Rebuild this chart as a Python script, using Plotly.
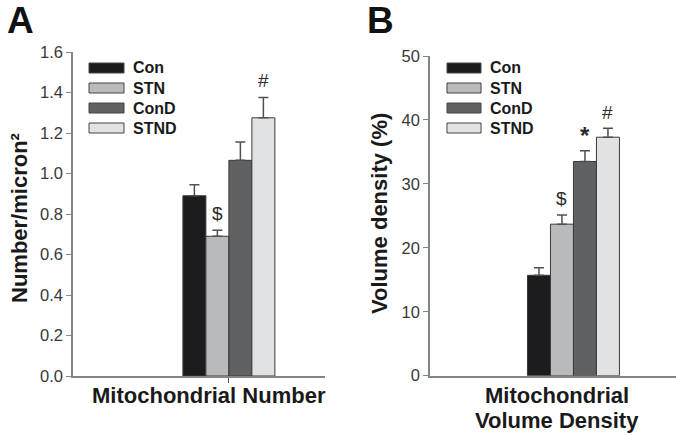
import plotly.graph_objects as go

# ---- data ----
groups = ["Con", "STN", "ConD", "STND"]
number_vals = [0.89, 0.69, 1.065, 1.275]
number_err = [0.055, 0.03, 0.09, 0.10]
number_marks = ["", "$", "", "#"]
density_vals = [15.7, 23.7, 33.5, 37.3]
density_err = [1.2, 1.45, 1.7, 1.4]
density_marks = ["", "$", "*", "#"]
number_ticks = [0.0, 0.2, 0.4, 0.6, 0.8, 1.0, 1.2, 1.4, 1.6]
density_ticks = [0, 10, 20, 30, 40, 50]

colors = ["#1c1c1e", "#b9babc", "#606163", "#e1e2e4"]

W, H = 676, 435
FONT = "Arial, Liberation Sans, Helvetica, sans-serif"


def px(xp):
    return xp / W


def py(yp):
    return 1 - yp / H


fig = go.Figure()
pos = list(range(len(groups)))

fig.add_trace(go.Bar(
    x=pos, y=number_vals, width=1, marker=dict(color=colors, line=dict(color="#3a3a3a", width=1)),
    error_y=dict(type="data", array=number_err, arrayminus=[0] * 4, symmetric=False,
                 color="#505050", thickness=1.5, width=5),
    xaxis="x", yaxis="y", showlegend=False))
fig.add_trace(go.Bar(
    x=pos, y=density_vals, width=1, marker=dict(color=colors, line=dict(color="#3a3a3a", width=1)),
    error_y=dict(type="data", array=density_err, arrayminus=[0] * 4, symmetric=False,
                 color="#505050", thickness=1.5, width=5),
    xaxis="x2", yaxis="y2", showlegend=False))

axis_col = "#858585"
tickfont = dict(family=FONT, size=16.5, color="#383838")

fig.update_layout(
    width=W, height=H, margin=dict(l=0, r=0, t=0, b=0, autoexpand=False),
    paper_bgcolor="white", plot_bgcolor="white",
    barmode="overlay",
    xaxis=dict(domain=[px(73), px(325)], range=[-5.28, 5.68], showgrid=False, zeroline=False,
               showline=True, linecolor=axis_col, linewidth=1.5, automargin=False,
               tickmode="array", tickvals=[1.5], ticktext=[""], ticks="outside",
               ticklen=5, tickcolor="#555555", tickwidth=1.2, anchor="y"),
    yaxis=dict(domain=[py(376), py(52)], range=[0, 1.6], showgrid=False, zeroline=False,
               showline=True, linecolor=axis_col, linewidth=1.5, automargin=False,
               tickmode="array", tickvals=number_ticks,
               ticktext=[f"{v:.1f}" for v in number_ticks],
               ticks="outside", ticklen=5, tickcolor=axis_col, tickwidth=1.2,
               tickfont=tickfont, anchor="x"),
    xaxis2=dict(domain=[px(430), 1.0], range=[-4.74, 5.96], showgrid=False, zeroline=False,
                showline=True, linecolor=axis_col, linewidth=1.5, showticklabels=False,
                automargin=False, ticks="", anchor="y2"),
    yaxis2=dict(domain=[py(375.7), py(56)], range=[0, 50], showgrid=False, zeroline=False,
                showline=True, linecolor=axis_col, linewidth=1.5, automargin=False,
                tickmode="array", tickvals=density_ticks,
                ticks="outside", ticklen=5, tickcolor=axis_col, tickwidth=1.2,
                tickfont=tickfont, anchor="x2"),
)

ann = []
# significance marks
for i, m in enumerate(number_marks):
    if m:
        ann.append(dict(x=i, y=number_vals[i] + number_err[i], xref="x", yref="y", text=m,
                        showarrow=False, xanchor="center", yanchor="middle", yshift=17,
                        font=dict(family=FONT, size=19, color="#2a2a2a")))
for i, m in enumerate(density_marks):
    if m:
        bold = m == "*"
        ann.append(dict(x=i, y=density_vals[i] + density_err[i], xref="x2", yref="y2",
                        text=f"<b>{m}</b>" if bold else m,
                        showarrow=False, xanchor="center", yanchor="middle",
                        yshift=15 if bold else 16,
                        font=dict(family=FONT, size=24 if bold else 19, color="#2a2a2a")))


def paper_text(x, y, text, font, **kw):
    d = dict(x=px(x), y=py(y), xref="paper", yref="paper", text=text, showarrow=False,
             xanchor="center", yanchor="middle", font=font)
    d.update(kw)
    ann.append(d)


# panel letters
letter_font = dict(family=FONT, size=37, color="#111111")
paper_text(20, 21, "<b>A</b>", letter_font)
paper_text(380, 21, "<b>B</b>", letter_font)

# axis titles
title_font = dict(family=FONT, size=22, color="#1a1a1a")
paper_text(20, 218, "<b>Number/micron²</b>", title_font, textangle=-90)
paper_text(379, 214, "<b>Volume density (%)</b>", title_font, textangle=-90)
paper_text(208.5, 395, "<b>Mitochondrial Number</b>", title_font)
paper_text(557, 395, "<b>Mitochondrial</b>", title_font)
paper_text(557, 420, "<b>Volume Density</b>", title_font)

# manual legends
shapes = []
rows = [68, 88, 108, 128]
legend_font = dict(family=FONT, size=16, color="#1a1a1a")
for bx0, bx1 in [(89, 124), (447, 481)]:
    for g, c, ry in zip(groups, colors, rows):
        shapes.append(dict(type="rect", xref="paper", yref="paper",
                           x0=px(bx0), x1=px(bx1), y0=py(ry + 5), y1=py(ry - 5),
                           fillcolor=c, line=dict(color="#444444", width=1)))
        paper_text(bx1 + 7, ry, f"<b>{g}</b>", legend_font, xanchor="left")

fig.update_layout(annotations=ann, shapes=shapes)
fig.write_html("out.html", config={"displayModeBar": False},
               post_script="document.body.style.margin='0';document.body.style.padding='0';")
